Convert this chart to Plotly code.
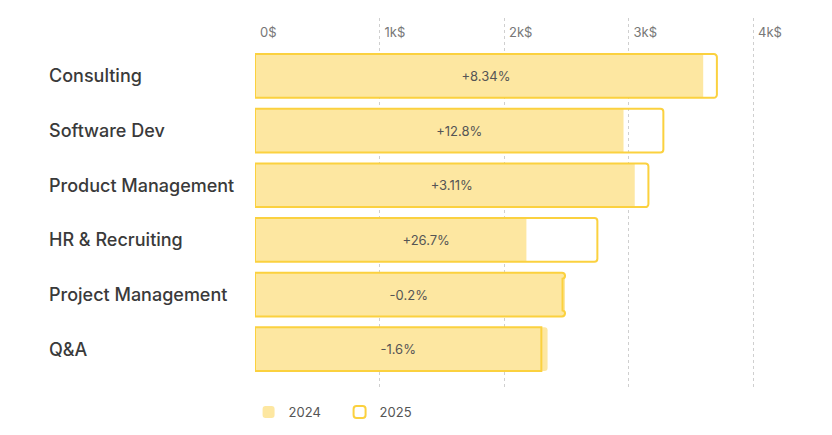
import plotly.graph_objects as go

categories = ["Consulting", "Software Dev", "Product Management", "HR & Recruiting", "Project Management", "Q&A"]
values_2024 = [3600, 2960, 3050, 2180, 2490, 2350]
values_2025 = [3710, 3280, 3160, 2750, 2470, 2300]
change_labels = ["+8.34%", "+12.8%", "+3.11%", "+26.7%", "-0.2%", "-1.6%"]
tick_vals = [0, 1000, 2000, 3000, 4000]
tick_text = ["0$", "1k$", "2k$", "3k$", "4k$"]

FONT = "Inter, Lato, sans-serif"
FILL = "#FDE7A1"
LINE = "#FBD13F"

L, R, T, B = 255, 42, 18, 47
PW = 832 - L - R

fig = go.Figure()
fig.add_trace(go.Bar(
    name="2024", y=categories, x=values_2024, orientation="h",
    marker=dict(color=FILL, line=dict(width=0)), width=0.8,
    hoverinfo="x+y",
))
fig.add_trace(go.Bar(
    name="2025", y=categories, x=values_2025, orientation="h",
    marker=dict(color="rgba(0,0,0,0)", line=dict(color=LINE, width=2)), width=0.8,
    text=change_labels, textposition="inside", insidetextanchor="middle",
    textfont=dict(family=FONT, size=13, color="#555555"), constraintext="none",
))

for c in categories:
    fig.add_annotation(
        x=(47 - L) / PW, xref="paper", y=c, yref="y", text=c, showarrow=False,
        xanchor="left", yanchor="middle",
        font=dict(family=FONT, size=18, color="#3a3a3a", weight=500),
    )

fig.update_layout(
    width=832, height=435,
    margin=dict(l=L, r=R, t=T, b=B, autoexpand=False),
    paper_bgcolor="white", plot_bgcolor="white",
    barmode="overlay", barcornerradius=3,
    showlegend=True,
    legend=dict(orientation="h", x=-0.012, xanchor="left",
                yref="container", y=1 - 397 / 435, yanchor="top",
                font=dict(family=FONT, size=13, color="#555555"),
                itemwidth=30, entrywidth=46, entrywidthmode="pixels",
                traceorder="normal"),
    xaxis=dict(
        side="top", range=[0, PW / 124.5 * 1000], tickvals=tick_vals, ticktext=tick_text,
        ticklabelposition="inside right", ticklabelshift=5, ticklabelstandoff=4,
        showgrid=True, gridcolor="#cfcfcf",
        griddash="dot", gridwidth=1, zeroline=False, showline=False, ticks="",
        tickfont=dict(family=FONT, size=13, color="#777777"),
    ),
    yaxis=dict(
        type="category", categoryorder="array", categoryarray=categories,
        range=[5.71, -1.06], showticklabels=False, showgrid=False,
        zeroline=False, showline=False, ticks="",
    ),
)

fig.write_html("out.html")
